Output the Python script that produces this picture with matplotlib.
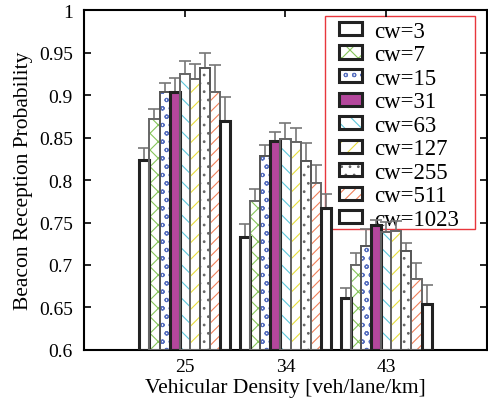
import numpy as np
import matplotlib
matplotlib.use("Agg")
import matplotlib.pyplot as plt
from matplotlib.patches import Patch, Rectangle
from matplotlib.ticker import FormatStrFormatter

densities = ["25", "34", "43"]
cw_labels = ["cw=3", "cw=7", "cw=15", "cw=31", "cw=63", "cw=127", "cw=255", "cw=511", "cw=1023"]

# mean reception probability, rows = cw, cols = density
means = [
    [0.824, 0.733, 0.661],
    [0.872, 0.775, 0.700],
    [0.904, 0.828, 0.722],
    [0.904, 0.846, 0.747],
    [0.925, 0.848, 0.739],
    [0.919, 0.845, 0.740],
    [0.932, 0.822, 0.716],
    [0.903, 0.797, 0.683],
    [0.869, 0.767, 0.654],
]
# upper error
errs = [
    [0.014, 0.015, 0.012],
    [0.012, 0.014, 0.014],
    [0.010, 0.013, 0.020],
    [0.016, 0.010, 0.006],
    [0.015, 0.019, 0.012],
    [0.017, 0.016, 0.012],
    [0.018, 0.022, 0.010],
    [0.032, 0.021, 0.019],
    [0.029, 0.017, 0.022],
]

# (fill, hatch, hatch colour, edge colour, edge width)
styles = [
    ("white", None, "black", "#222222", 2.2),
    ("white", "xx", "#86c55a", "#666666", 1.4),
    ("white", "oo", "#5870c0", "#555555", 1.4),
    ("#b4479c", None, "black", "#222222", 2.2),
    ("white", "\\\\", "#5cc6da", "#666666", 1.4),
    ("white", "//", "#e6dc3c", "#666666", 1.4),
    ("white", "..", "#666666", "#555555", 1.4),
    ("white", "///", "#f0805a", "#666666", 1.4),
    ("white", None, "black", "#222222", 2.2),
]

plt.rcParams["font.family"] = ["Liberation Serif", "DejaVu Serif"]
plt.rcParams["hatch.linewidth"] = 0.8

fig = plt.figure(figsize=(4.88, 4.10), dpi=100)
ax = fig.add_axes([0.172, 0.144, 0.826, 0.829])

x = np.arange(1, len(densities) + 1)
n = len(cw_labels)
w = 0.1
handles = []
for i in range(n):
    fc, hatch, hc, ec, lw = styles[i]
    pos = x + (i - (n - 1) / 2) * w
    if hatch:
        ax.bar(pos, np.array(means[i]) - 0.6, w, bottom=0.6, color=fc, hatch=hatch,
               edgecolor=hc, linewidth=0, zorder=2)
    else:
        ax.bar(pos, np.array(means[i]) - 0.6, w, bottom=0.6, color=fc, linewidth=0, zorder=2)
    ax.bar(pos, np.array(means[i]) - 0.6, w, bottom=0.6, fill=False,
           edgecolor=ec, linewidth=lw, zorder=3)
    ax.errorbar(pos, means[i], yerr=[np.zeros(len(x)), errs[i]], fmt="none",
                ecolor="#777777", elinewidth=1.2, capsize=4, capthick=1.2, zorder=1.5)
    h1 = Patch(facecolor=fc, hatch=hatch, edgecolor=hc, linewidth=0)
    h2 = Patch(fill=False, edgecolor="#222222", linewidth=2.2)
    handles.append((h1, h2))

ax.set_xlim(0, 4)
ax.set_ylim(0.6, 1.0)
ax.set_xticks(x)
ax.set_xticklabels(densities)
ax.set_yticks(np.arange(0.6, 1.001, 0.05))
ax.yaxis.set_major_formatter(FormatStrFormatter("%g"))
ax.tick_params(direction="in", top=True, right=True, length=5, width=1.2, labelsize=14)
ax.tick_params(axis="y", pad=8)
ax.tick_params(axis="x", pad=6)
for s in ax.spines.values():
    s.set_linewidth(1.5)

ax.set_xlabel("Vehicular Density [veh/lane/km]", fontsize=15.5, labelpad=2)
ax.set_ylabel("Beacon Reception Probability", fontsize=15.5, labelpad=4)

# red legend box, drawn under the bars
box = Rectangle((0.599, 0.356), 0.371, 0.626, transform=ax.transAxes,
                facecolor="white", edgecolor="#e8363c", linewidth=1.0, zorder=1)
ax.add_patch(box)
leg = ax.legend(handles, cw_labels, loc="upper left", bbox_to_anchor=(0.632, 0.969),
                borderaxespad=0, borderpad=0, fontsize=16.5, handlelength=1.0,
                handleheight=0.5, labelspacing=0.11, handletextpad=0.55, frameon=False)
leg.set_zorder(1.2)

fig.savefig("out.png", dpi=100)
